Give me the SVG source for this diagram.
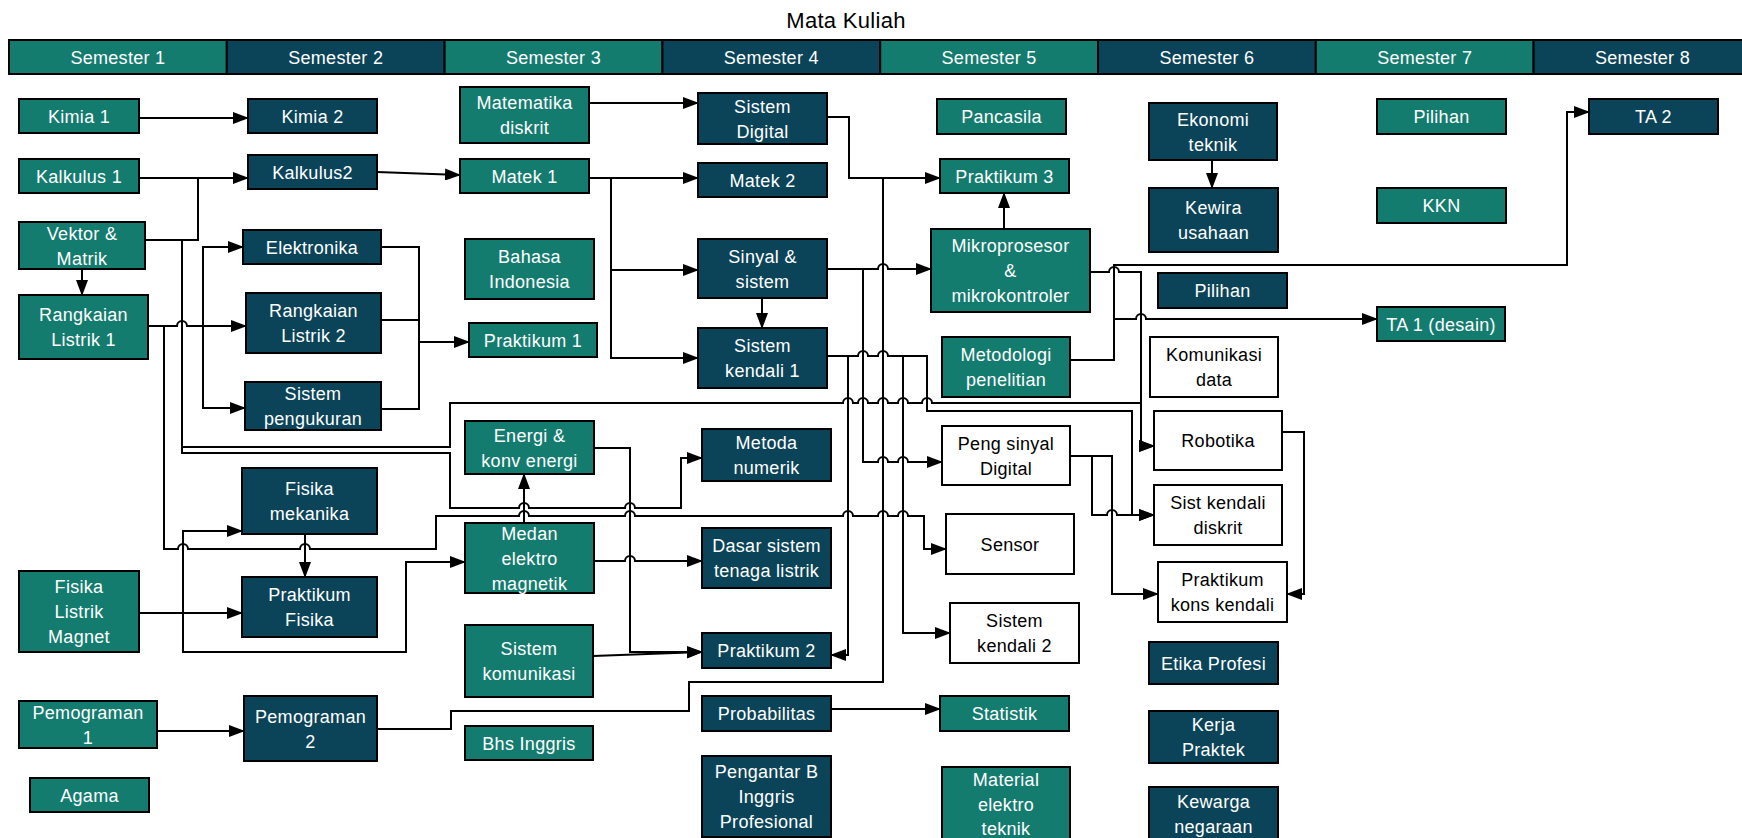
<svg xmlns="http://www.w3.org/2000/svg" width="1742" height="838" viewBox="0 0 1742 838">
<style>
.teal{fill:#147C6F;stroke:#000;stroke-width:2}
.dark{fill:#0B4459;stroke:#000;stroke-width:2}
.white{fill:#fff;stroke:#000;stroke-width:2}
text{font-family:"Liberation Sans",Arial,sans-serif;font-size:18px;letter-spacing:0.3px;text-anchor:middle}
.w{fill:#fff}
.k{fill:#000}
.title{font-size:22px;fill:#000}
.c path{fill:none;stroke:#000;stroke-width:2;marker-end:url(#a)}
.c path.n{marker-end:none}
</style>
<defs>
<marker id="a" markerUnits="userSpaceOnUse" markerWidth="16" markerHeight="12" refX="15" refY="6" orient="auto"><path d="M0,0 L16,6 L0,12 z" fill="#000"/></marker>
</defs>
<rect x="0" y="0" width="1742" height="838" fill="#fff"/>
<text class="title" x="846" y="28">Mata Kuliah</text>
<g id="header">
<rect class="teal" x="9" y="40" width="217.8" height="34"/><text class="w" x="117.9" y="64">Semester 1</text>
<rect class="dark" x="226.8" y="40" width="217.8" height="34"/><text class="w" x="335.7" y="64">Semester 2</text>
<rect class="teal" x="444.6" y="40" width="217.8" height="34"/><text class="w" x="553.5" y="64">Semester 3</text>
<rect class="dark" x="662.4" y="40" width="217.8" height="34"/><text class="w" x="771.3" y="64">Semester 4</text>
<rect class="teal" x="880.2" y="40" width="217.8" height="34"/><text class="w" x="989.1" y="64">Semester 5</text>
<rect class="dark" x="1098" y="40" width="217.8" height="34"/><text class="w" x="1206.9" y="64">Semester 6</text>
<rect class="teal" x="1315.8" y="40" width="217.8" height="34"/><text class="w" x="1424.7" y="64">Semester 7</text>
<rect class="dark" x="1533.6" y="40" width="217.8" height="34"/><text class="w" x="1642.5" y="64">Semester 8</text>
</g>

<g id="kimia1"><rect class="teal" x="19" y="99" width="120" height="34"/><text class="w" x="79" y="122.5">Kimia 1</text></g>
<g id="kalkulus1"><rect class="teal" x="19" y="159" width="120" height="34"/><text class="w" x="79" y="182.5">Kalkulus 1</text></g>
<g id="vektor"><rect class="teal" x="19" y="222" width="126" height="47"/><text class="w" x="82" y="239.5">Vektor &amp;</text><text class="w" x="82" y="264.5">Matrik</text></g>
<g id="rangkaian1"><rect class="teal" x="19" y="295" width="129" height="64"/><text class="w" x="83.5" y="321">Rangkaian</text><text class="w" x="83.5" y="346">Listrik 1</text></g>
<g id="fisikalm"><rect class="teal" x="19" y="571" width="120" height="81"/><text class="w" x="79" y="593">Fisika</text><text class="w" x="79" y="618">Listrik</text><text class="w" x="79" y="643">Magnet</text></g>
<g id="pemograman1"><rect class="teal" x="19" y="701" width="138" height="47"/><text class="w" x="88" y="718.5">Pemograman</text><text class="w" x="88" y="743.5">1</text></g>
<g id="agama"><rect class="teal" x="30" y="778" width="119" height="34"/><text class="w" x="89.5" y="801.5">Agama</text></g>

<g id="kimia2"><rect class="dark" x="248" y="99" width="129" height="34"/><text class="w" x="312.5" y="122.5">Kimia 2</text></g>
<g id="kalkulus2"><rect class="dark" x="248" y="155" width="129" height="34"/><text class="w" x="312.5" y="178.5">Kalkulus2</text></g>
<g id="elektronika"><rect class="dark" x="243" y="230" width="138" height="34"/><text class="w" x="312" y="253.5">Elektronika</text></g>
<g id="rangkaian2"><rect class="dark" x="246" y="293" width="135" height="60"/><text class="w" x="313.5" y="317">Rangkaian</text><text class="w" x="313.5" y="342">Listrik 2</text></g>
<g id="sispeng"><rect class="dark" x="245" y="382" width="136" height="48"/><text class="w" x="313" y="400">Sistem</text><text class="w" x="313" y="425">pengukuran</text></g>
<g id="fismek"><rect class="dark" x="242" y="468" width="135" height="66"/><text class="w" x="309.5" y="495">Fisika</text><text class="w" x="309.5" y="520">mekanika</text></g>
<g id="prakfis"><rect class="dark" x="242" y="577" width="135" height="60"/><text class="w" x="309.5" y="601">Praktikum</text><text class="w" x="309.5" y="626">Fisika</text></g>
<g id="pemograman2"><rect class="dark" x="244" y="696" width="133" height="65"/><text class="w" x="310.5" y="722.5">Pemograman</text><text class="w" x="310.5" y="747.5">2</text></g>

<g id="matdis"><rect class="teal" x="460" y="87" width="129" height="56"/><text class="w" x="524.5" y="109">Matematika</text><text class="w" x="524.5" y="134">diskrit</text></g>
<g id="matek1"><rect class="teal" x="460" y="159" width="129" height="34"/><text class="w" x="524.5" y="182.5">Matek 1</text></g>
<g id="bahasa"><rect class="teal" x="465" y="239" width="129" height="60"/><text class="w" x="529.5" y="263">Bahasa</text><text class="w" x="529.5" y="288">Indonesia</text></g>
<g id="prak1"><rect class="teal" x="469" y="323" width="128" height="34"/><text class="w" x="533" y="346.5">Praktikum 1</text></g>
<g id="energi"><rect class="teal" x="465" y="421" width="129" height="53"/><text class="w" x="529.5" y="441.5">Energi &amp;</text><text class="w" x="529.5" y="466.5">konv energi</text></g>
<g id="medan"><rect class="teal" x="465" y="523" width="129" height="70"/><text class="w" x="529.5" y="539.5">Medan</text><text class="w" x="529.5" y="564.5">elektro</text><text class="w" x="529.5" y="589.5">magnetik</text></g>
<g id="siskom"><rect class="teal" x="465" y="625" width="128" height="72"/><text class="w" x="529" y="655">Sistem</text><text class="w" x="529" y="680">komunikasi</text></g>
<g id="bhsinggris"><rect class="teal" x="465" y="726" width="128" height="34"/><text class="w" x="529" y="749.5">Bhs Inggris</text></g>

<g id="sisdig"><rect class="dark" x="698" y="93" width="129" height="51"/><text class="w" x="762.5" y="112.5">Sistem</text><text class="w" x="762.5" y="137.5">Digital</text></g>
<g id="matek2"><rect class="dark" x="698" y="163" width="129" height="34"/><text class="w" x="762.5" y="186.5">Matek 2</text></g>
<g id="sinyal"><rect class="dark" x="698" y="239" width="129" height="59"/><text class="w" x="762.5" y="262.5">Sinyal &amp;</text><text class="w" x="762.5" y="287.5">sistem</text></g>
<g id="sk1"><rect class="dark" x="698" y="328" width="129" height="60"/><text class="w" x="762.5" y="352">Sistem</text><text class="w" x="762.5" y="377">kendali 1</text></g>
<g id="metoda"><rect class="dark" x="702" y="429" width="129" height="52"/><text class="w" x="766.5" y="449">Metoda</text><text class="w" x="766.5" y="474">numerik</text></g>
<g id="dasar"><rect class="dark" x="702" y="528" width="129" height="60"/><text class="w" x="766.5" y="552">Dasar sistem</text><text class="w" x="766.5" y="577">tenaga listrik</text></g>
<g id="prak2"><rect class="dark" x="702" y="633" width="129" height="35"/><text class="w" x="766.5" y="657">Praktikum 2</text></g>
<g id="prob"><rect class="dark" x="702" y="696" width="129" height="35"/><text class="w" x="766.5" y="720">Probabilitas</text></g>
<g id="pengantar"><rect class="dark" x="702" y="756" width="129" height="81"/><text class="w" x="766.5" y="778">Pengantar B</text><text class="w" x="766.5" y="803">Inggris</text><text class="w" x="766.5" y="828">Profesional</text></g>

<g id="pancasila"><rect class="teal" x="937" y="99" width="129" height="35"/><text class="w" x="1001.5" y="123">Pancasila</text></g>
<g id="prak3"><rect class="teal" x="940" y="159" width="129" height="34"/><text class="w" x="1004.5" y="182.5">Praktikum 3</text></g>
<g id="mikro"><rect class="teal" x="931" y="229" width="159" height="83"/><text class="w" x="1010.5" y="252">Mikroprosesor</text><text class="w" x="1010.5" y="277">&amp;</text><text class="w" x="1010.5" y="302">mikrokontroler</text></g>
<g id="metodologi"><rect class="teal" x="942" y="337" width="128" height="60"/><text class="w" x="1006" y="361">Metodologi</text><text class="w" x="1006" y="386">penelitian</text></g>
<g id="pengsinyal"><rect class="white" x="942" y="426" width="128" height="59"/><text class="k" x="1006" y="449.5">Peng sinyal</text><text class="k" x="1006" y="474.5">Digital</text></g>
<g id="sensor"><rect class="white" x="946" y="514" width="128" height="60"/><text class="k" x="1010" y="550.5">Sensor</text></g>
<g id="sk2"><rect class="white" x="950" y="603" width="129" height="60"/><text class="k" x="1014.5" y="627">Sistem</text><text class="k" x="1014.5" y="652">kendali 2</text></g>
<g id="statistik"><rect class="teal" x="940" y="696" width="129" height="35"/><text class="w" x="1004.5" y="720">Statistik</text></g>
<g id="material"><rect class="teal" x="942" y="767" width="128" height="75"/><text class="w" x="1006" y="786">Material</text><text class="w" x="1006" y="810.5">elektro</text><text class="w" x="1006" y="835">teknik</text></g>

<g id="ekonomi"><rect class="dark" x="1149" y="103" width="128" height="57"/><text class="w" x="1213" y="125.5">Ekonomi</text><text class="w" x="1213" y="150.5">teknik</text></g>
<g id="kewira"><rect class="dark" x="1149" y="188" width="129" height="64"/><text class="w" x="1213.5" y="214">Kewira</text><text class="w" x="1213.5" y="239">usahaan</text></g>
<g id="pilihan6"><rect class="dark" x="1158" y="273" width="129" height="35"/><text class="w" x="1222.5" y="297">Pilihan</text></g>
<g id="ta1"><rect class="teal" x="1377" y="307" width="128" height="34"/><text class="w" x="1441" y="330.5">TA 1 (desain)</text></g>
<g id="komdata"><rect class="white" x="1150" y="337" width="128" height="60"/><text class="k" x="1214" y="361">Komunikasi</text><text class="k" x="1214" y="386">data</text></g>
<g id="robotika"><rect class="white" x="1154" y="411" width="128" height="59"/><text class="k" x="1218" y="447">Robotika</text></g>
<g id="skdiskrit"><rect class="white" x="1154" y="485" width="128" height="60"/><text class="k" x="1218" y="509">Sist kendali</text><text class="k" x="1218" y="534">diskrit</text></g>
<g id="pkk"><rect class="white" x="1158" y="562" width="129" height="60"/><text class="k" x="1222.5" y="586">Praktikum</text><text class="k" x="1222.5" y="611">kons kendali</text></g>
<g id="etika"><rect class="dark" x="1149" y="642" width="129" height="42"/><text class="w" x="1213.5" y="669.5">Etika Profesi</text></g>
<g id="kerja"><rect class="dark" x="1149" y="711" width="129" height="52"/><text class="w" x="1213.5" y="731">Kerja</text><text class="w" x="1213.5" y="756">Praktek</text></g>
<g id="kewarga"><rect class="dark" x="1149" y="787" width="129" height="55"/><text class="w" x="1213.5" y="808">Kewarga</text><text class="w" x="1213.5" y="833">negaraan</text></g>

<g id="pilihan7"><rect class="teal" x="1377" y="99" width="129" height="35"/><text class="w" x="1441.5" y="123">Pilihan</text></g>
<g id="kkn"><rect class="teal" x="1377" y="188" width="129" height="35"/><text class="w" x="1441.5" y="212">KKN</text></g>
<g id="ta2"><rect class="dark" x="1589" y="99" width="129" height="35"/><text class="w" x="1653.5" y="123">TA 2</text></g>

<g id="connectors" class="c">
<path d="M139,118 H248"/>
<path d="M139,178 H248"/>
<path class="n" d="M145,240 H198 V178"/>
<path d="M82,269 V295"/>
<path d="M182,240 V453 H450 V508 H519 a5,5 0 0 1 10,0 H625 a5,5 0 0 1 10,0 H681 V458 H702"/>
<path d="M182,447 H450 V403 H843 a5,5 0 0 1 10,0 H858 a5,5 0 0 1 10,0 H878 a5,5 0 0 1 10,0 H898 a5,5 0 0 1 10,0 H922 a5,5 0 0 1 10,0 H1141 V446 H1154"/>
<path d="M148,326 H177 a5,5 0 0 1 10,0 H246"/>
<path d="M203,326 V247 H243"/>
<path d="M203,326 V408 H245"/>
<path d="M164,326 V549 H178 a5,5 0 0 1 10,0 H300 a5,5 0 0 1 10,0 H436 V516 H519 a5,5 0 0 1 10,0 H625 a5,5 0 0 1 10,0 H843 a5,5 0 0 1 10,0 H878 a5,5 0 0 1 10,0 H898 a5,5 0 0 1 10,0 H924 V549 H946"/>
<path d="M381,247 H419 V342 H469"/>
<path class="n" d="M381,320 H419"/>
<path class="n" d="M381,409 H419 V342"/>
<path d="M139,613 H242"/>
<path d="M183,613 V531 H242"/>
<path d="M183,613 V652 H406 V562 H465"/>
<path d="M305,534 V577"/>
<path d="M157,731 H244"/>
<path class="n" d="M377,729 H451 V711 H689 V682 H883 V178"/>
<path d="M377,172 L460,175"/>
<path d="M589,103 H698"/>
<path d="M589,178 H698"/>
<path d="M611,178 V270 H698"/>
<path d="M611,270 V358 H698"/>
<path d="M762,298 V328"/>
<path d="M827,117 H849 V178 H940"/>
<path d="M827,269 H878 a5,5 0 0 1 10,0 H931"/>
<path d="M863,269 V462 H878 a5,5 0 0 1 10,0 H898 a5,5 0 0 1 10,0 H942"/>
<path d="M827,356 H858 a5,5 0 0 1 10,0 H878 a5,5 0 0 1 10,0 H927 V411 H1132 V515 H1154"/>
<path d="M848,356 V655 H831"/>
<path d="M903,356 V633 H950"/>
<path d="M594,448 H630 V652 H702"/>
<path d="M594,561 H625 a5,5 0 0 1 10,0 H702"/>
<path d="M524,523 V474"/>
<path d="M593,656 L702,652"/>
<path d="M831,709 H940"/>
<path d="M1004,229 V193"/>
<path d="M1090,272 H1109 a5,5 0 0 1 10,0 H1141 V446 H1154"/>
<path d="M1070,360 H1114 V265 H1567 V112 H1589"/>
<path d="M1114,319 H1136 a5,5 0 0 1 10,0 H1377"/>
<path d="M1070,456 H1092 V515 H1107 a5,5 0 0 1 10,0 H1154"/>
<path d="M1070,456 H1112 V594 H1158"/>
<path d="M1282,432 H1304 V594 H1287"/>
<path d="M1212,160 V188"/>
</g>
</svg>
